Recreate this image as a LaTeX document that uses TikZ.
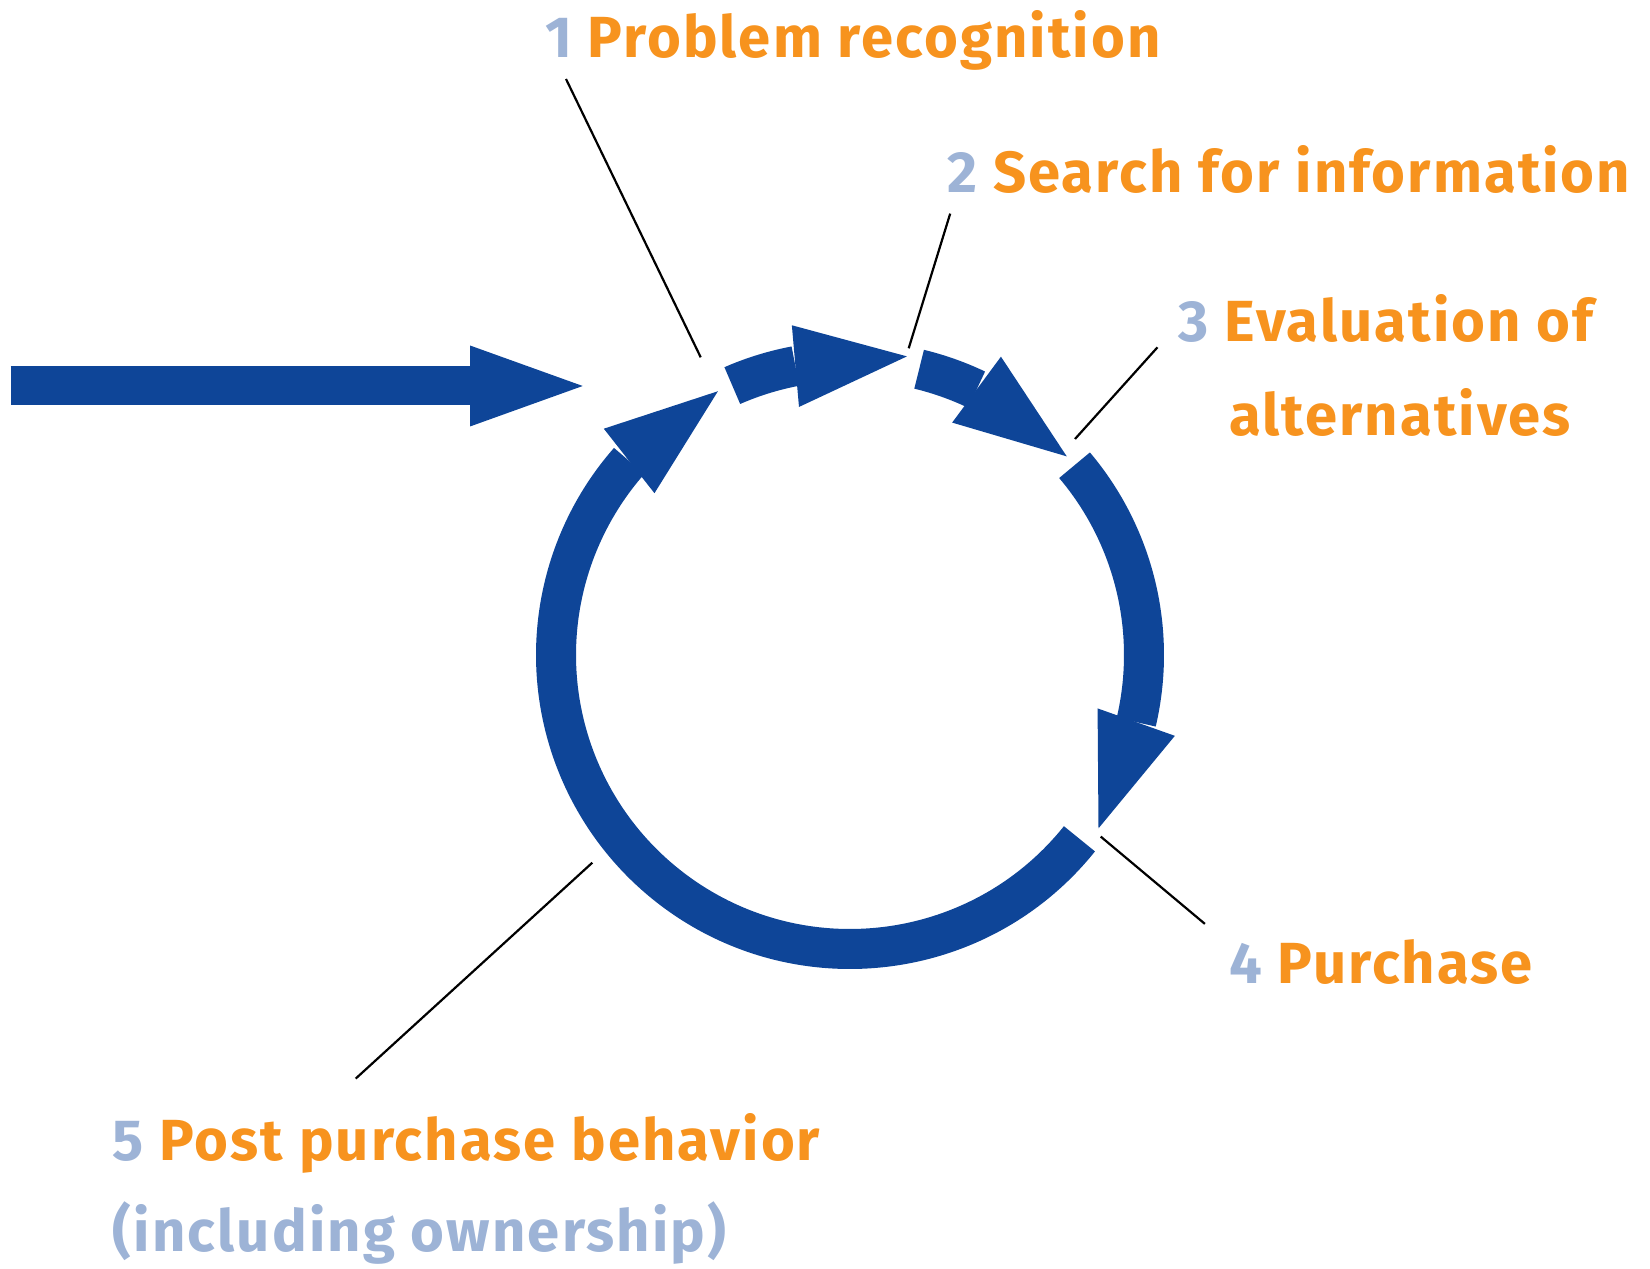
\documentclass[tikz,border=0pt]{standalone}
\usepackage{fontspec}
\setmainfont{Fira Sans}[LetterSpace=3.6]
\usetikzlibrary{calc}

\definecolor{ringblue}{RGB}{14,69,152}
\definecolor{stageorange}{RGB}{247,147,30}
\definecolor{numblue}{RGB}{157,179,214}

\newcommand{\stagenum}[1]{\textcolor{numblue}{#1}}

\begin{document}
\begin{tikzpicture}[x=1pt, y=1pt,
	ring/.style={draw=ringblue, line width=40pt},
	callout/.style={draw=black, line width=2.2pt},
	lbl/.style={anchor=base west, inner sep=0pt, text=stageorange, font=\bfseries\fontsize{58}{68}\selectfont}]
	\useasboundingbox (0,0) rectangle (1650,1269);

	% centre of the ring
	\coordinate (c) at (850,614);

	% entry arrow
	\coordinate (in0) at (10.5,883);
	\coordinate (inb) at (470,883);
	\coordinate (intip) at (582.7,883);
	\draw[ring, line width=39pt] (in0) -- (inb);
	\fill[ringblue] ($(inb)+(0,40.5)$) -- (intip) -- ($(inb)+(0,-40.5)$) -- cycle;

	% ring segments: tail angle / base angle / tip angle / tip radius
	\foreach \n/\a/\b/\t/\r in {1/113.6/100.7/79.2/304, 2/76.4/64.5/42.5/294, 3/40.2/-13.2/-34.9/303, 5/-38.7/-221.3/-243.4/295} {
		\coordinate (t\n) at ($(c)+(\a:294pt)$);
		\coordinate (b\n) at ($(c)+(\b:294pt)$);
		\coordinate (h\n) at ($(c)+(\t:\r pt)$);
		\draw[ring] (t\n) arc[start angle=\a, end angle=\b, radius=294pt];
		\fill[ringblue] ($(b\n)!41pt!90:(h\n)$) -- (h\n) -- ($(b\n)!41pt!-90:(h\n)$) -- cycle;
	}

	% labels
	\node[lbl] (s1) at (545,1211.1) {\stagenum{1} Problem recognition};
	\node[lbl] (s2) at (947,1076.4) {\stagenum{2} Search for information};
	\node[lbl] (s3) at (1178.6,927) {\stagenum{3} Evaluation of};
	\node[lbl] (s3b) at (1229,833.3) {alternatives};
	\node[lbl] (s4) at (1229,285) {\stagenum{4} Purchase};
	\node[lbl] (s5) at (112.6,108.3) {\stagenum{5} Post purchase behavior};
	\node[lbl, text=numblue] (s5b) at (112.6,17) {(including ownership)};

	% callout lines
	\coordinate (l1a) at (566,1190);
	\coordinate (l1b) at (700.7,911.7);
	\coordinate (l2a) at (950.2,1055.4);
	\coordinate (l2b) at (908.7,920.7);
	\coordinate (l3a) at (1157.5,921.7);
	\coordinate (l3b) at (1075,830);
	\coordinate (l4a) at (1100.7,432.4);
	\coordinate (l4b) at (1204.9,345.1);
	\coordinate (l5a) at (592.3,406.3);
	\coordinate (l5b) at (355.7,190.4);
	\draw[callout] (l1a) -- (l1b);
	\draw[callout] (l2a) -- (l2b);
	\draw[callout] (l3a) -- (l3b);
	\draw[callout] (l4a) -- (l4b);
	\draw[callout] (l5a) -- (l5b);
\end{tikzpicture}
\end{document}
